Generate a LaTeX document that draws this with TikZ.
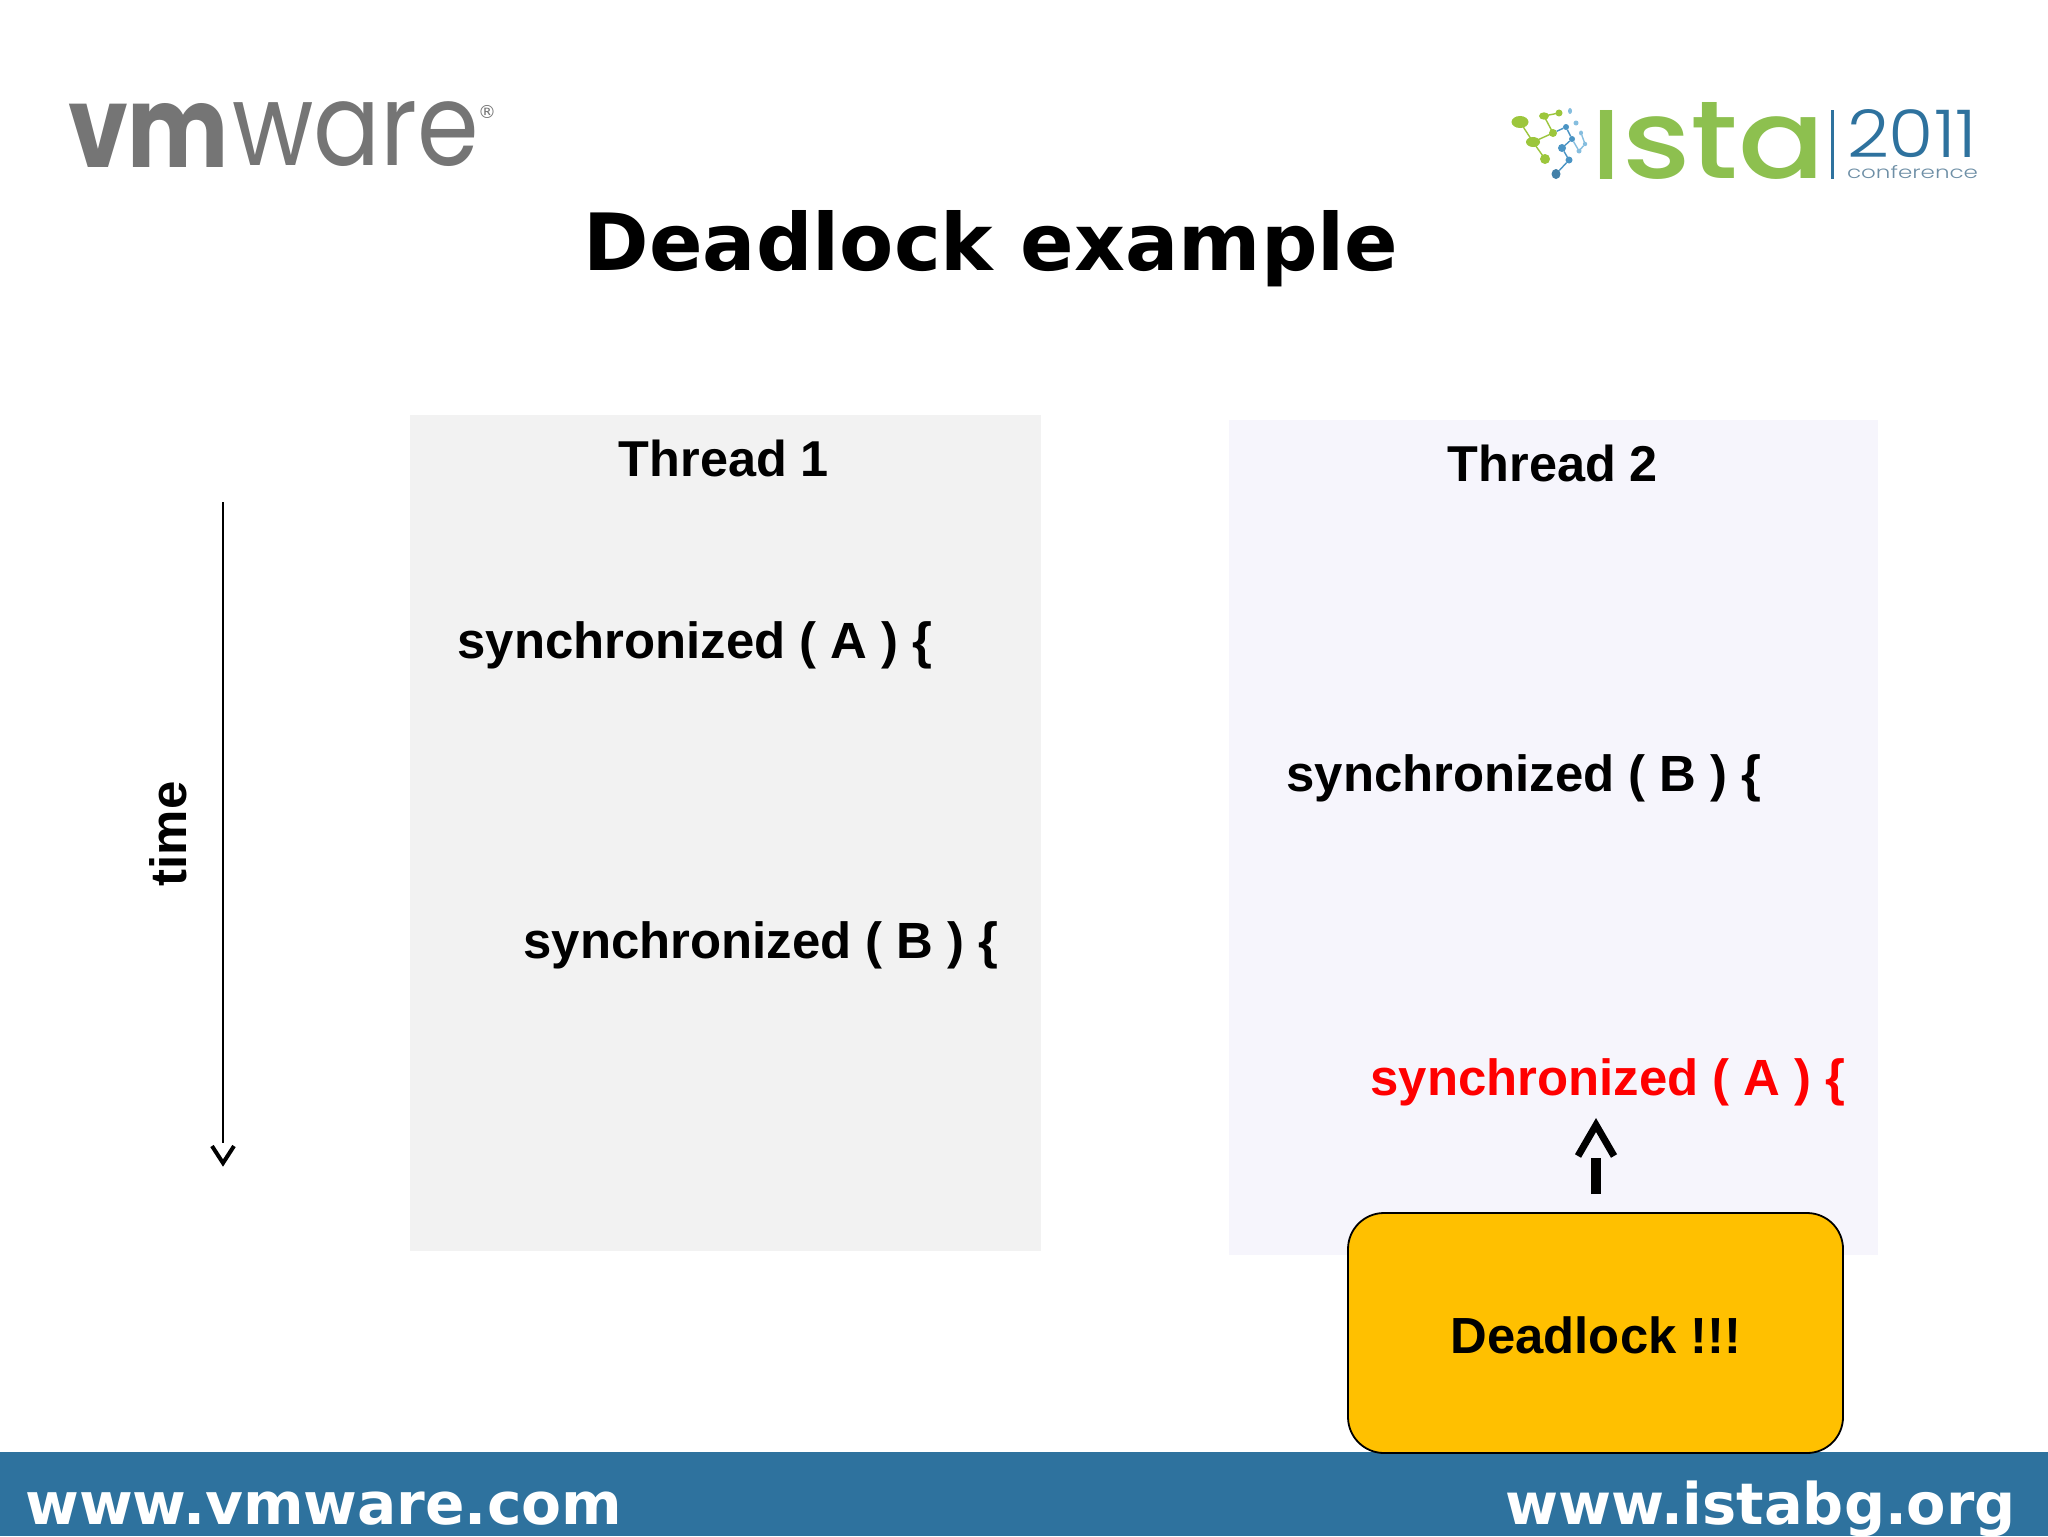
\documentclass[tikz,border=0pt]{standalone}
\usepackage{graphicx}
\usepackage{fontspec}
\setmainfont{Liberation Sans}
\newfontfamily\titlefont{DejaVu Sans}
\newfontfamily\logofont{Poppins}
\newfontfamily\logomed{Poppins Medium}
\newfontfamily\logolight{Poppins Light}
\newfontfamily\logobold{Poppins}[UprightFont=* Bold]
\definecolor{vmgray}{HTML}{757575}
\definecolor{barblue}{HTML}{2E729E}
\definecolor{istagreen}{HTML}{8DC04F}
\definecolor{molgreen}{HTML}{9CC63C}
\definecolor{molblue}{HTML}{4A94C4}
\definecolor{mollight}{HTML}{86BEDF}
\definecolor{confgray}{HTML}{6E8FA6}
\definecolor{threadone}{HTML}{F2F2F2}
\definecolor{threadtwo}{HTML}{F6F5FC}
\definecolor{lockfill}{HTML}{FFC000}
\newlength{\pxu}\setlength{\pxu}{0.5pt}
\usetikzlibrary{shapes.geometric}
\tikzset{
  x=0.5pt,y=-0.5pt,
  lane/.style={anchor=north west,inner sep=0pt,outer sep=0pt},
  code/.style={anchor=base west,inner sep=0pt,font=\bfseries\fontsize{25.45}{30}\selectfont},
  heading/.style={anchor=base,inner sep=0pt,font=\bfseries\fontsize{25.2}{30}\selectfont},
  foot/.style={inner sep=0pt,text=white,font=\titlefont\bfseries\fontsize{29.1}{34}\selectfont},
  logo/.style={anchor=south west,inner sep=0pt,outer sep=0pt},
  gdot/.style={ellipse,inner sep=0pt,outer sep=0pt,fill=molgreen},
  bdot/.style={ellipse,inner sep=0pt,outer sep=0pt,fill=molblue},
  ldot/.style={ellipse,inner sep=0pt,outer sep=0pt,fill=mollight},
}
\begin{document}
\begin{tikzpicture}
\useasboundingbox (0,0) rectangle (2048,1536);
\fill[white] (0,0) rectangle (2048,1536);
% thread panels
\node[lane,fill=threadone,minimum width=631*\pxu,minimum height=836*\pxu] (t1) at (410,415) {};
\node[lane,fill=threadtwo,minimum width=649*\pxu,minimum height=835*\pxu] (t2) at (1229,420) {};
% footer
\node[lane,fill=barblue,minimum width=2048*\pxu,minimum height=84*\pxu] (bar) at (0,1452) {};
\node[foot,anchor=base west] (fl) at (25,1524) {www.vmware.com};
\node[foot,anchor=base east,font=\titlefont\bfseries\fontsize{28.7}{34}\selectfont] (fr) at (2016,1524) {www.istabg.org};
% title
\node[anchor=base,inner sep=0pt,font=\titlefont\bfseries\fontsize{39.5}{46}\selectfont] (title) at (991,270) {Deadlock example};
% headings and code
\node[heading] (h1) at (724,476.5) {Thread 1};
\node[heading] (h2) at (1553,481.5) {Thread 2};
\node[code] (s1) at (457,658.5) {synchronized ( A ) \{};
\node[code] (s2) at (523,958.5) {synchronized ( B ) \{};
\node[code] (s3) at (1286,791.5) {synchronized ( B ) \{};
\node[code,text=red] (s4) at (1370,1095) {synchronized ( A ) \{};
% time axis
\node[anchor=base,inner sep=0pt,rotate=90,font=\bfseries\fontsize{25.5}{30}\selectfont] (time) at (186,834) {time};
\coordinate (ta) at (223,502);
\coordinate (tb) at (223,1143);
\coordinate (tl) at (212,1146);
\coordinate (tt) at (223,1163);
\coordinate (tr) at (234,1146);
\draw[line width=0.65pt] (ta) -- (tb);
\draw[line width=2pt,miter limit=10] (tl) -- (tt) -- (tr);
% deadlock box
\node[lane,draw=black,line width=0.9pt,fill=lockfill,rounded corners=18pt,minimum width=495*\pxu,minimum height=240*\pxu] (dl) at (1348,1213) {};
\node[anchor=base,inner sep=0pt,font=\bfseries\fontsize{25.4}{30}\selectfont] (dt) at (1596,1353) {Deadlock !!!};
% up arrow
\coordinate (ua) at (1596,1194);
\coordinate (ub) at (1596,1158);
\coordinate (ul) at (1578,1156);
\coordinate (ut) at (1596,1125);
\coordinate (ur) at (1614,1156);
\draw[line width=5pt] (ua) -- (ub);
\draw[line width=3.5pt,miter limit=10] (ul) -- (ut) -- (ur);
% vmware logo
\node[logo,text=vmgray] (vm) at (68,167) {\resizebox{161\pxu}{64\pxu}{\logobold vm}};
\node[logo,text=vmgray] (ware) at (232,167) {\resizebox{247\pxu}{64\pxu}{\logofont ware}};
\node[anchor=center,inner sep=0pt,text=vmgray,font=\titlefont\fontsize{9}{9}\selectfont] (reg) at (487,112) {®};
% ista logo
\node[logo,text=istagreen] (ista) at (1592,179) {\resizebox{28\pxu}{69\pxu}{\logomed I}};
\node[logo,text=istagreen] (stb) at (1622,179) {\resizebox{203\pxu}{76\pxu}{\logomed sta}};
\node[lane,fill=barblue,minimum width=3*\pxu,minimum height=69*\pxu] (sep) at (1831,110) {};
\node[logo,text=barblue] (yr) at (1847,158) {\resizebox{130\pxu}{48\pxu}{\logolight 2011}};
\node[logo,text=confgray] (conf) at (1847,179) {\resizebox{131\pxu}{13\pxu}{\logolight conference}};
% molecule
\draw[molgreen,line width=0.7pt] (1520,122) -- (1533,142) -- (1553,133) -- (1544,116) -- (1559,113) (1533,142) -- (1545,159);
\node[gdot,minimum width=8.5pt,minimum height=6pt] (g1) at (1520,122) {};
\node[gdot,minimum width=5pt,minimum height=3.7pt] (g2) at (1544,116) {};
\node[gdot,minimum width=3.5pt,minimum height=3.5pt] (g3) at (1559,113) {};
\node[gdot,minimum width=4pt,minimum height=4pt] (g4) at (1553,133) {};
\node[gdot,minimum width=7pt,minimum height=5pt] (g5) at (1533,142) {};
\node[gdot,minimum width=5pt,minimum height=5pt] (g6) at (1545,159) {};
\node[ldot,minimum width=2pt,minimum height=3pt] (b1) at (1570,111) {};
\node[ldot,minimum width=2.5pt,minimum height=2.5pt] (b2) at (1576,123) {};
\node[bdot,minimum width=3pt,minimum height=3pt] (b3) at (1566,127) {};
\node[ldot,minimum width=2pt,minimum height=2.5pt] (b4) at (1581,133) {};
\node[bdot,minimum width=3pt,minimum height=3pt] (b5) at (1572,139) {};
\node[ldot,minimum width=2.2pt,minimum height=2.2pt] (b6) at (1585,144) {};
\node[bdot,minimum width=4pt,minimum height=4pt] (b7) at (1562,148) {};
\node[ldot,minimum width=2.5pt,minimum height=2.5pt] (b8) at (1579,151) {};
\node[bdot,minimum width=3.5pt,minimum height=3.5pt] (b9) at (1569,160) {};
\node[bdot,minimum width=4.5pt,minimum height=5pt,fill=barblue!90] (b10) at (1556,174) {};
\draw[molblue,line width=0.7pt] (g4) -- (b3) -- (b5) -- (b7) -- (b9) -- (b10);
\draw[mollight,line width=0.7pt] (b5) -- (b8) -- (b6) -- (b4);
\end{tikzpicture}
\end{document}
